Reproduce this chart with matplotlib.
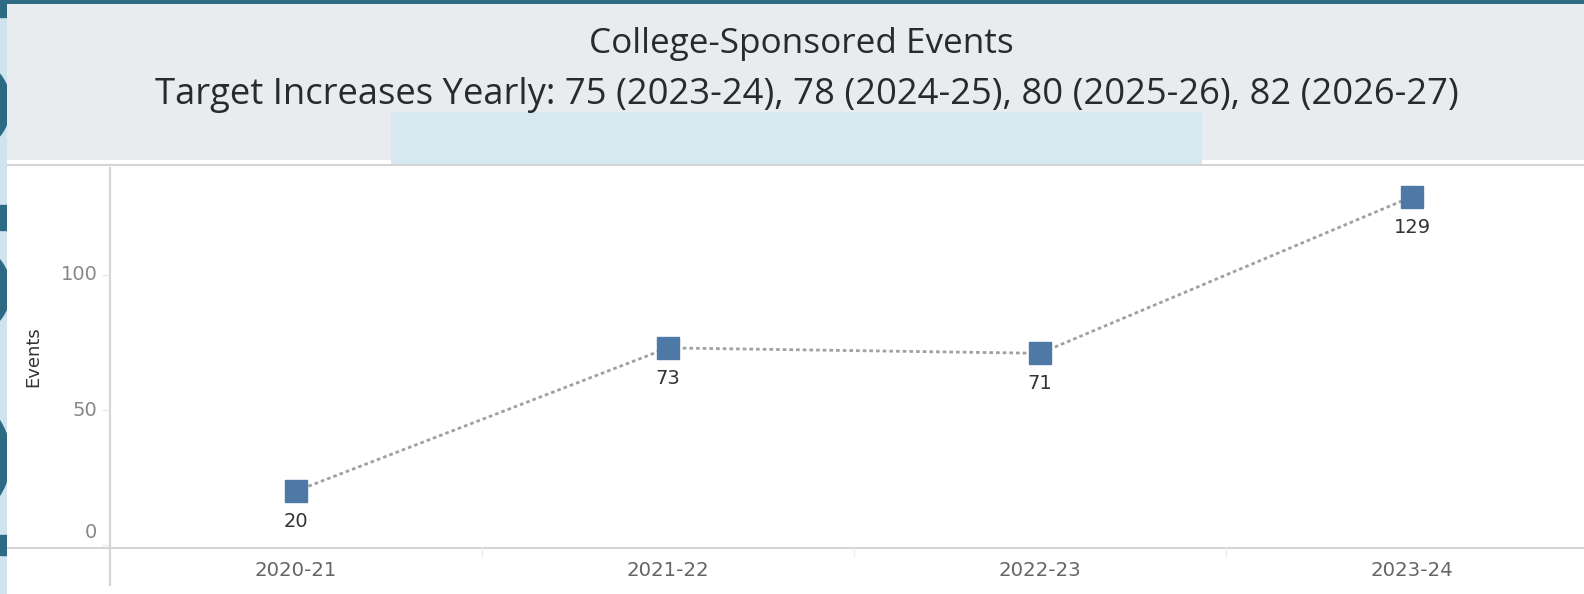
import matplotlib.pyplot as plt
from matplotlib.patches import Rectangle, Circle
from matplotlib.lines import Line2D

# data
years = ["2020-21", "2021-22", "2022-23", "2023-24"]
events = [20, 73, 71, 129]
yticks = [0, 50, 100]

title1 = "College-Sponsored Events"
title2 = "Target Increases Yearly: 75 (2023-24), 78 (2024-25), 80 (2025-26), 82 (2026-27)"

W, H = 1584, 594
fig = plt.figure(figsize=(W / 100, H / 100), dpi=100)
fig.patch.set_facecolor("white")

def fx(x):
    return x / W

def fy(y):
    return 1 - y / H

dark = "#2d6a84"
light = "#cfe4ef"

# header panel
fig.patches.append(Rectangle((fx(7), fy(160)), fx(W - 7), 156 / H, transform=fig.transFigure,
                             facecolor="#e8ecef", edgecolor="none", zorder=0))
fig.patches.append(Rectangle((fx(391), fy(164)), fx(811), 52 / H, transform=fig.transFigure,
                             facecolor="#d6e9f1", edgecolor="none", zorder=1))
fig.lines.append(Line2D([fx(7), 1], [fy(165), fy(165)], transform=fig.transFigure, color="#d4d4d4", lw=1.5))
fig.patches.append(Rectangle((0, fy(4)), 1, 4 / H, transform=fig.transFigure,
                             facecolor=dark, edgecolor="none", zorder=2))

# left decorative strip
strip_ax = fig.add_axes([0, 0, fx(7), 1], zorder=5)
strip_ax.set_xlim(0, 7)
strip_ax.set_ylim(H, 0)
strip_ax.axis("off")
strip_ax.add_patch(Rectangle((0, 0), 7, H, color=light))
strip_ax.add_patch(Rectangle((0, 0), 7, 17, color=dark))
for cy, r in [(105, 44), (290, 42), (458, 64)]:
    strip_ax.add_patch(Circle((-r + 5, cy), r, fill=False, lw=9, color=dark))
strip_ax.add_patch(Rectangle((0, 205), 7, 25, color=dark))
strip_ax.add_patch(Rectangle((0, 535), 7, 20, color=dark))

fig.text(fx(801), fy(44), title1, ha="center", va="center", fontsize=25.3, color="#2a2a2a", family="Open Sans")
fig.text(fx(807), fy(95), title2, ha="center", va="center", fontsize=26.2, color="#2a2a2a", family="Open Sans")

# plot
x0, yb, yt = 110, 548, 168
ax = fig.add_axes([fx(x0), fy(yb), 1 - fx(x0), (yb - yt) / H])
x = list(range(len(years)))
ax.plot(x, events, ls=(0, (1.3, 1.1)), color="#a0a0a0", lw=2, zorder=2)
ax.plot(x, events, ls="none", marker="s", ms=16, color="#4e79a7", zorder=3)
for xi, v in zip(x, events):
    ax.annotate(str(v), (xi, v), xytext=(0, -22), textcoords="offset points",
                ha="center", va="center", fontsize=14, color="#333333")

ax.set_xlim(-0.5, -0.5 + (W - x0) / 372)
ax.set_ylim(-3 / 2.7, (545 - 168) / 2.7)
ax.set_yticks(yticks)
ax.set_yticklabels([])
ax.set_xticks(x)
ax.set_xticklabels(years)
ax.tick_params(axis="y", length=6, color="#e6e6e6")
ax.tick_params(axis="x", length=0, labelcolor="#666666", labelsize=14.2, pad=9)
for s in ax.spines.values():
    s.set_visible(False)
# y tick labels (Tableau nudges the 0 label up)
for t in yticks:
    ax.annotate(str(t), (0, t), xycoords=("axes fraction", "data"), xytext=(-9, 9 if t == 0 else 0),
                textcoords="offset points", ha="right", va="center", fontsize=14, color="#888888",
                annotation_clip=False)
fig.text(fx(33), fy(357), "Events", rotation=90, ha="center", va="center", fontsize=13, color="#333333")

# axis lines
fig.lines.append(Line2D([fx(7), 1], [fy(548), fy(548)], transform=fig.transFigure, color="#d4d4d4", lw=1.5))
fig.lines.append(Line2D([fx(110), fx(110)], [fy(168), fy(585)], transform=fig.transFigure, color="#d4d4d4", lw=1.5))
for bx in [482, 854, 1226]:
    fig.lines.append(Line2D([fx(bx), fx(bx)], [fy(548), fy(556)], transform=fig.transFigure, color="#ececec", lw=1))

fig.savefig("out.png", dpi=100)
